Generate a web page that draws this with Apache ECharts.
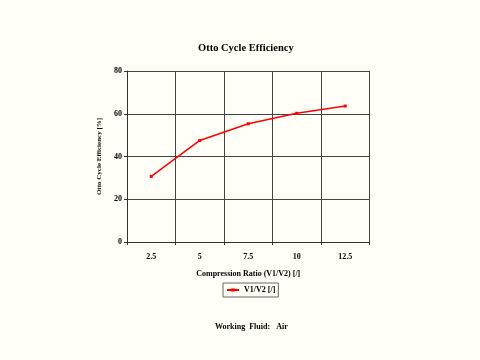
<!DOCTYPE html>
<html><head><meta charset="utf-8">
<script src="https://cdn.jsdelivr.net/npm/echarts@6/dist/echarts.min.js"></script>
<style>html,body{margin:0;padding:0;background:#fffff8;}#c{width:480px;height:360px;}</style>
</head><body><div id="c"></div>
<script>
var categories = ['2.5', '5', '7.5', '10', '12.5'];
var efficiency = [30.7, 47.5, 55.3, 60.2, 63.6];
var yTicks = [0, 20, 40, 60, 80];

var font = 'Liberation Serif';
var chart = echarts.init(document.getElementById('c'), null, {renderer: 'canvas'});
chart.setOption({
  backgroundColor: '#fffff8',
  animation: false,
  title: [{
    text: 'Otto Cycle Efficiency', left: 193, top: 38,
    textStyle: {fontFamily: font, fontWeight: 'bold', fontSize: 10.5, color: '#000'}
  }, {
    text: 'Working  Fluid:   Air', left: 210, top: 318,
    textStyle: {fontFamily: font, fontWeight: 'bold', fontSize: 8, color: '#000'}
  }],
  legend: {
    data: ['V1/V2 [/]'], left: 223, top: 283,
    borderColor: '#666', borderWidth: 1, padding: [3, 3, 3, 3],
    itemWidth: 12, itemHeight: 4, itemGap: 4,
    textStyle: {fontFamily: font, fontWeight: 'bold', fontSize: 8, color: '#000'}
  },
  grid: {left: 127, top: 71, width: 242.5, height: 171, containLabel: false},
  xAxis: {
    type: 'category', data: categories, boundaryGap: true,
    name: 'Compression Ratio (V1/V2) [/]', nameLocation: 'middle', nameGap: 28,
    nameTextStyle: {fontFamily: font, fontWeight: 'bold', fontSize: 8, color: '#000'},
    axisLine: {lineStyle: {color: '#333', width: 1}},
    axisTick: {show: true, length: 3, lineStyle: {color: '#333'}},
    axisLabel: {fontFamily: font, fontWeight: 'bold', fontSize: 8, color: '#000', margin: 11},
    splitLine: {show: true, lineStyle: {color: '#444', width: 1}}
  },
  yAxis: {
    type: 'value', min: 0, max: 80, interval: 20,
    name: 'Otto Cycle Efficiency [%]', nameLocation: 'middle', nameGap: 24, nameRotate: 90,
    nameTextStyle: {fontFamily: font, fontWeight: 'bold', fontSize: 7, color: '#000'},
    axisLine: {show: true, lineStyle: {color: '#333', width: 1}},
    axisTick: {show: true, length: 3, lineStyle: {color: '#333'}},
    axisLabel: {fontFamily: font, fontWeight: 'bold', fontSize: 8, color: '#000', margin: 5,
      formatter: function (v) { return yTicks.indexOf(v) >= 0 ? String(v) : ''; }},
    splitLine: {show: true, lineStyle: {color: '#444', width: 1}}
  },
  series: [{
    name: 'V1/V2 [/]', type: 'line', data: efficiency,
    symbol: 'rect', symbolSize: 3, showSymbol: true,
    lineStyle: {color: '#ff0000', width: 1.5},
    itemStyle: {color: '#ff0000'}
  }]
});
</script></body></html>
